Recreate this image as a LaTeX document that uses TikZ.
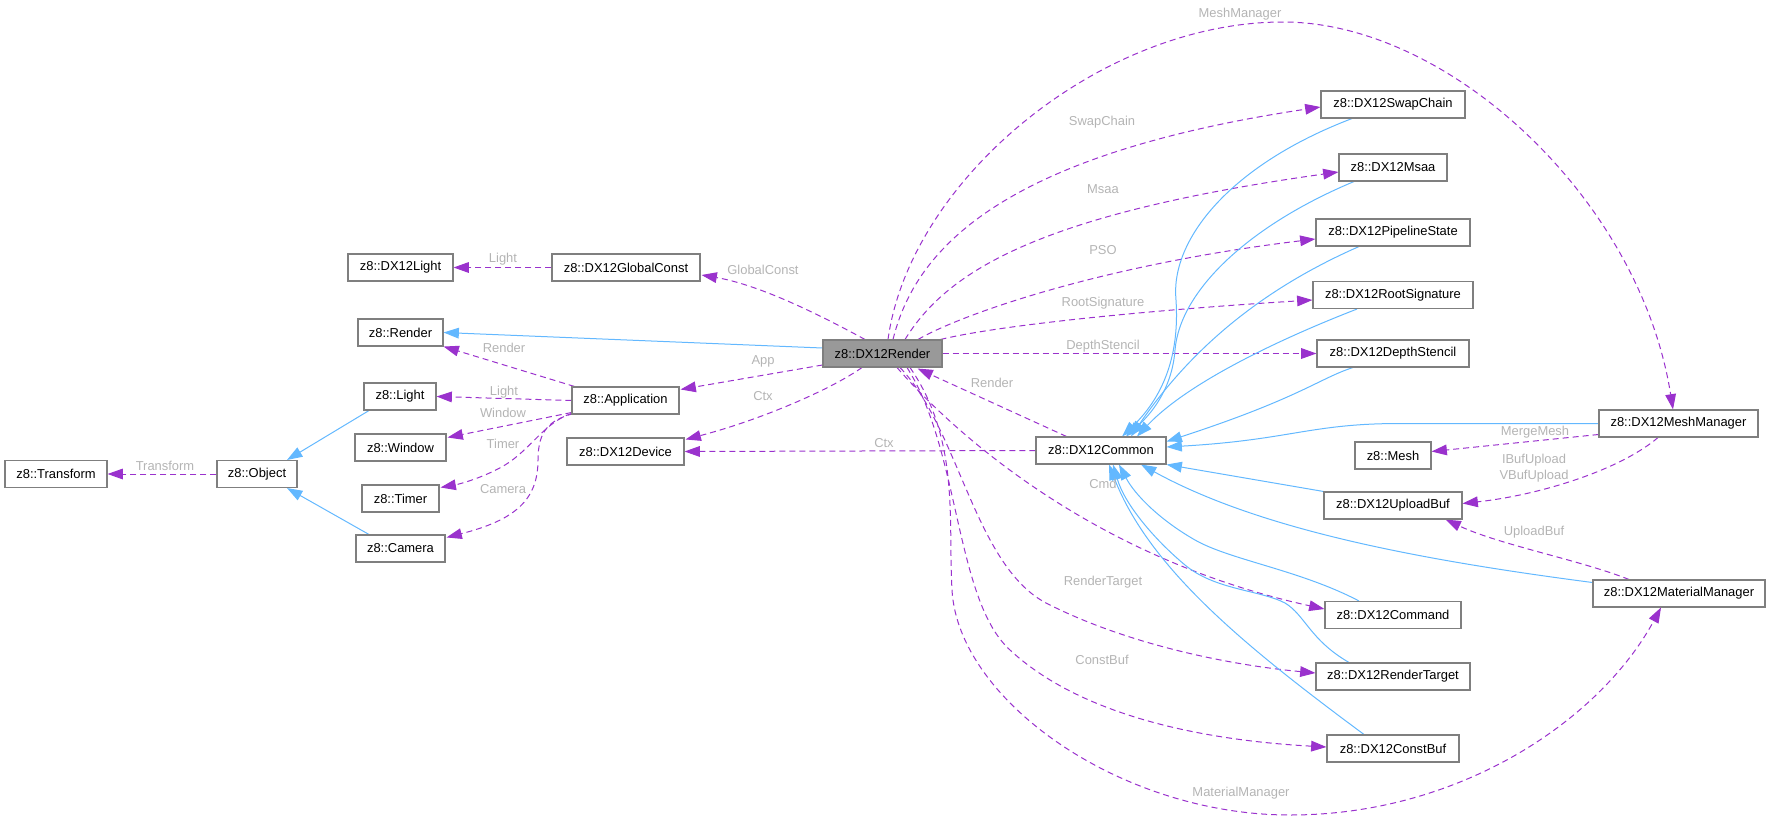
\documentclass[tikz,border=0pt]{standalone}
\usepackage{fontspec}
\setmainfont{Liberation Sans}
\usetikzlibrary{arrows.meta,calc}
\definecolor{ep}{HTML}{9A32CD}
\definecolor{eb}{HTML}{63B8FF}
\definecolor{bd}{HTML}{7F7F7F}
\definecolor{lg}{HTML}{B4B4B4}
\definecolor{rf}{HTML}{999999}
\pgfdeclarelayer{bg}
\pgfsetlayers{bg,main}
\begin{document}
\begin{tikzpicture}[x=0.75pt,y=-0.75pt,
 box/.style={draw=bd,line width=0.8pt,fill=white,minimum height=20.25pt,minimum width=#1*0.75pt,inner xsep=0pt,inner ysep=0pt,font=\fontsize{9.7}{12}\selectfont,text=black},
 lbl/.style={font=\fontsize{9.7}{12}\selectfont,text=lg,inner sep=0pt,align=center},
 dep/.style={draw=ep,line width=0.75pt,dash pattern=on 4.5pt off 3pt,-{Triangle[length=11.5pt,width=8pt,fill=ep]}},
 inh/.style={draw=eb,line width=0.75pt,-{Triangle[length=11.5pt,width=8pt,fill=eb]}}]
\useasboundingbox (0,0) rectangle (1771,821);
% nodes
\node[box=102] (tf) at (56,474) {z8::Transform};
\node[box=80] (obj) at (257,474) {z8::Object};
\node[box=105] (dl) at (400.5,267.5) {z8::DX12Light};
\node[box=85] (rd) at (400.5,332.5) {z8::Render};
\node[box=72] (lt) at (400,396.5) {z8::Light};
\node[box=91] (win) at (400.5,447.5) {z8::Window};
\node[box=77] (tm) at (400.5,498.5) {z8::Timer};
\node[box=89] (cam) at (400.5,548.5) {z8::Camera};
\node[box=148] (gc) at (626,267.5) {z8::DX12GlobalConst};
\node[box=107] (app) at (625.5,400.5) {z8::Application};
\node[box=117] (dev) at (625.5,451.5) {z8::DX12Device};
\node[box=119,fill=rf] (r) at (882.5,353.5) {z8::DX12Render};
\node[box=130] (cm) at (1101,450.5) {z8::DX12Common};
\node[box=144] (sc) at (1393,104.5) {z8::DX12SwapChain};
\node[box=108] (ms) at (1393,167.5) {z8::DX12Msaa};
\node[box=154] (ps) at (1393,232.5) {z8::DX12PipelineState};
\node[box=160] (rs) at (1393,295) {z8::DX12RootSignature};
\node[box=152] (ds) at (1393,353.5) {z8::DX12DepthStencil};
\node[box=76] (mesh) at (1393,455.5) {z8::Mesh};
\node[box=138] (ub) at (1393,505.5) {z8::DX12UploadBuf};
\node[box=136] (cmd) at (1393,615) {z8::DX12Command};
\node[box=154] (rtg) at (1393,676.5) {z8::DX12RenderTarget};
\node[box=132] (cb) at (1393,748.5) {z8::DX12ConstBuf};
\node[box=159] (mm) at (1678.5,423.5) {z8::DX12MeshManager};
\node[box=172] (mat) at (1679,593.5) {z8::DX12MaterialManager};
% labels
\node[lbl] (lLight1) at (503,259) {Light};
\node[lbl] (lGC) at (763,270) {GlobalConst};
\node[lbl] (lRender1) at (504,348) {Render};
\node[lbl] (lLight2) at (504,392) {Light};
\node[lbl] (lWin) at (503,413) {Window};
\node[lbl] (lTimer) at (503,444) {Timer};
\node[lbl] (lCam) at (503,489) {Camera};
\node[lbl] (lTf) at (165,466) {Transform};
\node[lbl] (lApp) at (763,361) {App};
\node[lbl] (lCtx1) at (763,396) {Ctx};
\node[lbl] (lCtx2) at (884,443) {Ctx};
\node[lbl] (lRender2) at (992,383) {Render};
\node[lbl] (lSC) at (1102,122) {SwapChain};
\node[lbl] (lMsaa) at (1103,189) {Msaa};
\node[lbl] (lPSO) at (1103,250) {PSO};
\node[lbl] (lRS) at (1103,303) {RootSignature};
\node[lbl] (lDS) at (1103,346) {DepthStencil};
\node[lbl] (lMM) at (1240,14) {MeshManager};
\node[lbl] (lCmd) at (1103,484) {Cmd};
\node[lbl] (lRT) at (1103,582) {RenderTarget};
\node[lbl] (lCB) at (1102,660) {ConstBuf};
\node[lbl] (lMat) at (1241,793) {MaterialManager};
\node[lbl] (lMerge) at (1535,432) {MergeMesh};
\node[lbl] (lIV) at (1534,468) {IBufUpload\\VBufUpload};
\node[lbl] (lUB) at (1534,532) {UploadBuf};
\begin{pgfonlayer}{bg}
% dependency edges
\draw[dep] (gc.west) -- (dl.east);
\draw[dep] ($(r.north)+(-17.5,0)$) .. controls (820,315) and (760,285) .. ($(gc.east)+(1,7.5)$);
\draw[dep] ($(app.north west)+(3,0)$) -- (rd.south east);
\draw[dep] (app.west) -- (lt.east);
\draw[dep] ($(app.south west)+(0,-2)$) -- ($(win.north east)+(1,4)$);
\draw[dep] ($(app.south west)+(0,-1)$) .. controls (545,422) and (530,450) .. (505,465) .. controls (485,477) and (460,484) .. ($(tm.north east)+(1,3)$);
\draw[dep] ($(app.south west)+(2,-1)$) .. controls (550,420) and (538,430) .. (538,460) .. controls (538,500) and (515,520) .. ($(cam.north east)+(1,3)$);
\draw[dep] (obj.west) -- (tf.east);
\draw[dep] ($(r.west)+(0,11.5)$) -- ($(app.north east)+(1,3)$);
\draw[dep] ($(r.south)+(-20.5,0)$) .. controls (830,390) and (760,420) .. ($(dev.north east)+(1,2)$);
\draw[dep] (cm.west) -- (dev.east);
\draw[dep] ($(cm.north west)+(31,0)$) -- ($(r.south east)+(-25,1)$);
\draw[dep] ($(r.north)+(10.5,0)$) .. controls (915,250) and (1000,155) .. ($(sc.west)+(0,2.5)$);
\draw[dep] ($(r.north)+(22.5,0)$) .. controls (945,275) and (1030,215) .. ($(ms.west)+(0,4.5)$);
\draw[dep] ($(r.north)+(35.5,0)$) .. controls (960,315) and (1100,265) .. ($(ps.west)+(0,6.5)$);
\draw[dep] ($(r.north east)+(-2,0)$) .. controls (1000,325) and (1150,310) .. ($(rs.west)+(0,5)$);
\draw[dep] (r.east) -- (ds.west);
\draw[dep] ($(r.north)+(5.5,0)$) .. controls (910,180) and (1100,22) .. (1283,22) .. controls (1450,22) and (1640,200) .. ($(mm.north)+(-5.5,0)$);
\draw[dep] ($(r.south)+(14.5,0)$) .. controls (960,440) and (1100,560) .. ($(cmd.west)+(0,-6)$);
\draw[dep] ($(r.south)+(17.5,0)$) .. controls (960,430) and (975,570) .. (1050,605) .. controls (1130,645) and (1230,665) .. ($(rtg.west)+(0,-3.5)$);
\draw[dep] ($(r.south)+(24.5,0)$) .. controls (960,450) and (955,600) .. (1010,650) .. controls (1080,715) and (1200,740) .. ($(cb.west)+(0,-1.5)$);
\draw[dep] ($(r.south)+(27.5,0)$) .. controls (960,440) and (948,520) .. (952,590) .. controls (958,700) and (1120,815) .. (1290,815) .. controls (1460,815) and (1600,720) .. ($(mat.south)+(-18,0)$);
\draw[dep] ($(mm.west)+(0,11)$) -- ($(mesh.east)+(0,-4)$);
\draw[dep] ($(mm.south)+(-20.5,0)$) .. controls (1620,470) and (1540,495) .. ($(ub.east)+(0,-2)$);
\draw[dep] ($(mat.north)+(-50,0)$) .. controls (1580,560) and (1500,545) .. ($(ub.south east)+(-17,0)$);
% inheritance edges
\draw[inh] ($(r.west)+(0,-5.5)$) -- (rd.east);
\draw[inh] ($(lt.south)+(-31,0)$) -- ($(obj.north)+(30,0)$);
\draw[inh] ($(cam.north)+(-31.5,0)$) -- ($(obj.south)+(30,0)$);
\draw[inh] ($(sc.south)+(-41,0)$) .. controls (1230,165) and (1170,240) .. (1176,300) .. controls (1180,360) and (1160,400) .. ($(cm.north)+(21,0)$);
\draw[inh] ($(ms.south)+(-39,0)$) .. controls (1250,225) and (1180,290) .. (1175,350) .. controls (1172,390) and (1150,415) .. ($(cm.north)+(25,0)$);
\draw[inh] ($(ps.south)+(-34,0)$) .. controls (1260,290) and (1190,350) .. ($(cm.north)+(30,0)$);
\draw[inh] ($(rs.south)+(-36,0)$) .. controls (1290,335) and (1190,380) .. ($(cm.north)+(36,0)$);
\draw[inh] ($(ds.south)+(-40,0)$) .. controls (1320,378) and (1300,398) .. ($(cm.east)+(0,-9)$);
\draw[inh] (mm.west) -- (1400,423.5) .. controls (1310,423.5) and (1290,440) .. ($(cm.east)+(0,-3.5)$);
\draw[inh] (ub.north west) -- (cm.south east);
\draw[inh] ($(mat.west)+(0,-11)$) .. controls (1420,560) and (1260,530) .. ($(cm.south)+(40,0)$);
\draw[inh] ($(cmd.north)+(-34,0)$) .. controls (1300,570) and (1230,560) .. (1195,540) .. controls (1160,520) and (1135,495) .. ($(cm.south)+(18,0)$);
\draw[inh] ($(rtg.north)+(-44,0)$) .. controls (1310,640) and (1305,615) .. (1285,603) .. controls (1260,590) and (1215,590) .. (1185,565) .. controls (1155,540) and (1125,505) .. ($(cm.south)+(12,0)$);
\draw[inh] ($(cb.north)+(-29,0)$) .. controls (1250,650) and (1150,570) .. ($(cm.south)+(8,0)$);
\end{pgfonlayer}
\end{tikzpicture}
\end{document}
